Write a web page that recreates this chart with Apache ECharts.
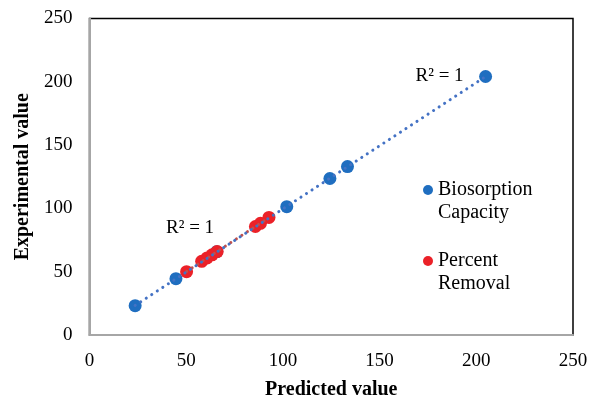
<!DOCTYPE html>
<html>
<head>
<meta charset="utf-8">
<script src="https://cdn.jsdelivr.net/npm/echarts@6/dist/echarts.min.js"></script>
<style>html,body{margin:0;padding:0;background:#fff;}#c{width:598px;height:401px;}</style>
</head>
<body>
<div id="c"></div>
<script>
// ---- data ----
var xTicks = [0, 50, 100, 150, 200, 250];
var yTicks = [0, 50, 100, 150, 200, 250];
var bioPredicted = [23.6, 44.7, 65.8, 102.0, 124.3, 133.4, 204.8];
var bioExperimental = [23.2, 44.5, 65.8, 101.4, 123.6, 133.0, 204.2];
var remPredicted = [50.2, 58.0, 60.8, 63.4, 66.0, 85.8, 88.4, 92.8];
var remExperimental = [50.0, 58.2, 60.9, 63.3, 65.9, 85.7, 88.2, 92.9];
var seriesNames = ['Biosorption\nCapacity', 'Percent\nRemoval'];
var r2Labels = ['R² = 1', 'R² = 1'];

function pairs(xs, ys) { return xs.map(function (x, i) { return [x, ys[i]]; }); }
function fit(xs, ys) {
  var n = xs.length, sx = 0, sy = 0, sxx = 0, sxy = 0;
  for (var i = 0; i < n; i++) { sx += xs[i]; sy += ys[i]; sxx += xs[i] * xs[i]; sxy += xs[i] * ys[i]; }
  var m = (n * sxy - sx * sy) / (n * sxx - sx * sx);
  var b = (sy - m * sx) / n;
  var x0 = Math.min.apply(null, xs), x1 = Math.max.apply(null, xs);
  return [[x0, m * x0 + b], [x1, m * x1 + b]];
}

var serif = 'Liberation Serif, Times New Roman, serif';
var chart = echarts.init(document.getElementById('c'), null, { renderer: 'canvas' });
chart.setOption({
  animation: false,
  backgroundColor: '#fff',
  grid: { left: 89.5, right: 25, top: 18.5, bottom: 66, containLabel: false, outerBoundsMode: 'none', show: true, borderColor: '#000', borderWidth: 1.5, backgroundColor: 'transparent' },
  xAxis: {
    type: 'value', min: xTicks[0], max: xTicks[xTicks.length - 1], interval: xTicks[1] - xTicks[0],
    name: 'Predicted value', nameLocation: 'middle', nameGap: 45,
    nameTextStyle: { fontFamily: serif, fontSize: 20, fontWeight: 'bold', color: '#000' },
    axisLine: { show: true, onZero: false, lineStyle: { color: '#A6A6A6', width: 2 } },
    axisTick: { show: false },
    splitLine: { show: false },
    axisLabel: { fontFamily: serif, fontSize: 19, color: '#000', margin: 17 }
  },
  yAxis: {
    type: 'value', min: yTicks[0], max: yTicks[yTicks.length - 1], interval: yTicks[1] - yTicks[0],
    name: 'Experimental value', nameLocation: 'middle', nameGap: 56,
    nameTextStyle: { fontFamily: serif, fontSize: 20, fontWeight: 'bold', color: '#000' },
    axisLine: { show: true, onZero: false, lineStyle: { color: '#A6A6A6', width: 2 } },
    axisTick: { show: false },
    splitLine: { show: false },
    axisLabel: { fontFamily: serif, fontSize: 19, color: '#000', margin: 17 }
  },
  legend: {
    orient: 'vertical', left: 423, top: 155.5, padding: 0, itemWidth: 10, itemHeight: 10, itemGap: 2,
    icon: 'circle', data: seriesNames,
    formatter: function (name) { return '\n' + name; },
    textStyle: { fontFamily: serif, fontSize: 20, color: '#000', lineHeight: 23 }
  },
  series: [
    {
      name: seriesNames[0], type: 'scatter', symbol: 'circle', symbolSize: 13, z: 2,
      itemStyle: { color: '#1F6EC0', opacity: 1 },
      data: pairs(bioPredicted, bioExperimental)
    },
    {
      name: seriesNames[1], type: 'scatter', symbol: 'circle', symbolSize: 13, z: 3,
      itemStyle: { color: '#EB2128', opacity: 1 },
      data: pairs(remPredicted, remExperimental)
    },
    {
      name: 'remTrend', type: 'line', showSymbol: false, symbol: 'none', z: 4, silent: true,
      lineStyle: { color: '#C0504D', width: 3, type: [0.1, 6.5], cap: 'round' },
      data: fit(remPredicted, remExperimental),
      markPoint: {
        symbol: 'circle', symbolSize: 0,
        label: { show: true, formatter: r2Labels[1], fontFamily: serif, fontSize: 19, color: '#000' },
        data: [{ coord: [52, 84.5] }]
      }
    },
    {
      name: 'bioTrend', type: 'line', showSymbol: false, symbol: 'none', z: 5, silent: true,
      lineStyle: { color: '#4472C4', width: 3, type: [0.1, 6.5], cap: 'round' },
      data: fit(bioPredicted, bioExperimental),
      markPoint: {
        symbol: 'circle', symbolSize: 0,
        label: { show: true, formatter: r2Labels[0], fontFamily: serif, fontSize: 19, color: '#000' },
        data: [{ coord: [181, 204.6] }]
      }
    }
  ]
});
</script>
</body>
</html>
